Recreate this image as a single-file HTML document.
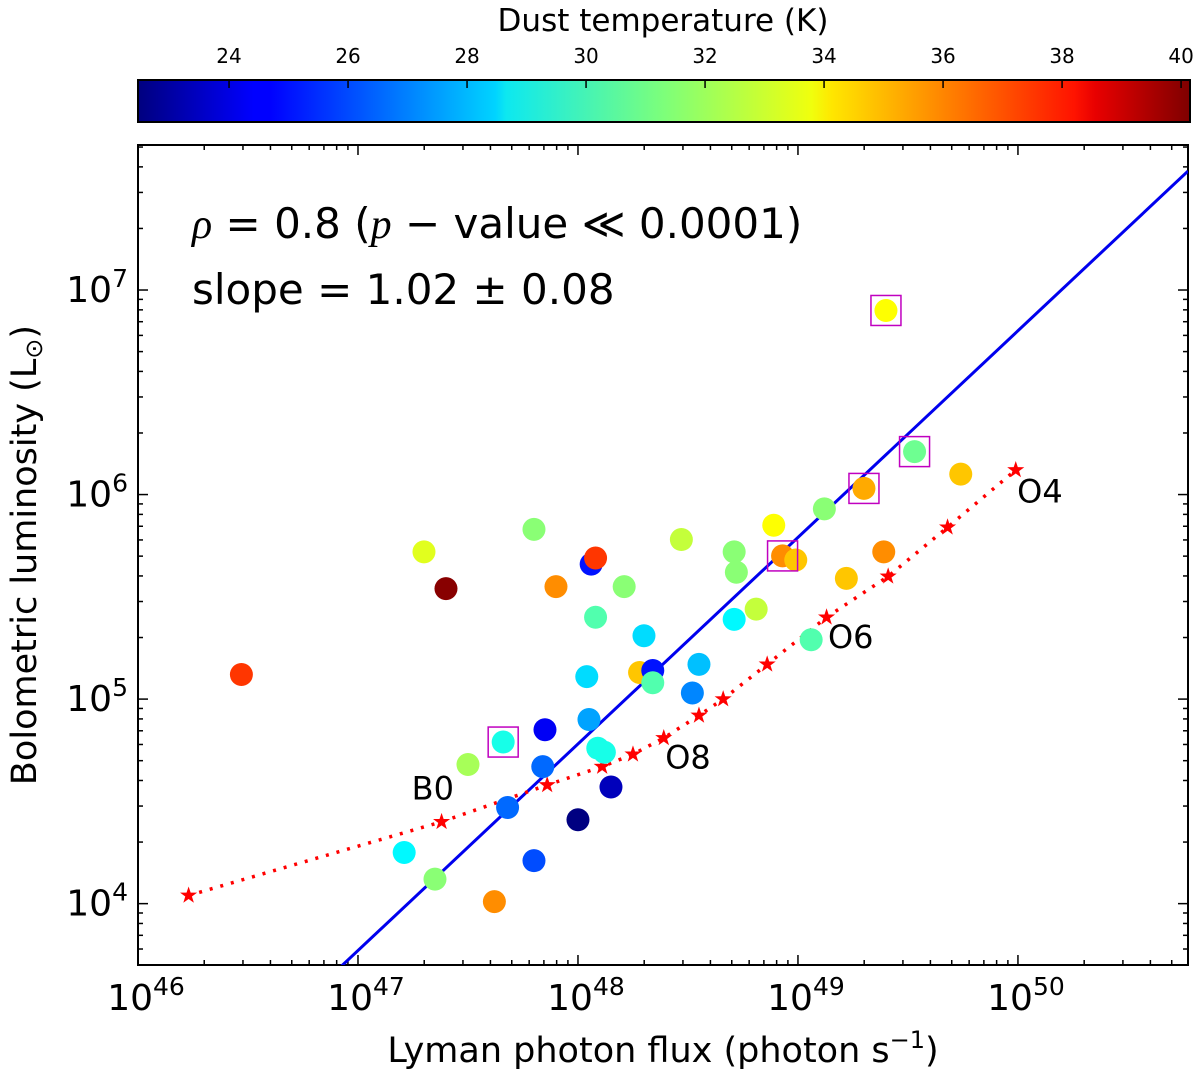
<!DOCTYPE html>
<html><head><meta charset="utf-8"><style>
html,body{margin:0;background:#fff;overflow:hidden;width:1200px;height:1073px;}
svg{display:block;}
svg text{font-family:"DejaVu Sans","Liberation Sans",sans-serif;}
</style></head><body>
<svg id="chart" width="1200" height="1073" xmlns="http://www.w3.org/2000/svg">
<defs>
<linearGradient id="jet" x1="0" x2="1" y1="0" y2="0">
<stop offset="0" stop-color="#00007f"/><stop offset="0.11" stop-color="#0000ff"/>
<stop offset="0.125" stop-color="#0000ff"/><stop offset="0.34" stop-color="#00d4ff"/>
<stop offset="0.35" stop-color="#0de8f0"/><stop offset="0.5" stop-color="#7dff7a"/>
<stop offset="0.64" stop-color="#f0ff0d"/><stop offset="0.66" stop-color="#ffe600"/>
<stop offset="0.89" stop-color="#ff1300"/><stop offset="0.91" stop-color="#e80000"/>
<stop offset="1" stop-color="#7f0000"/>
</linearGradient>
<clipPath id="plotclip"><rect x="138" y="145" width="1050" height="820"/></clipPath>
</defs>
<g id="g"></g>
</svg>
<script>
const logX = [46.47,47.30,47.40,47.80,48.06,48.08,47.90,48.21,48.08,48.30,48.47,48.89,48.71,48.72,48.81,48.71,49.12,48.93,48.99,49.30,49.53,49.74,49.40,49.39,49.22,49.06,48.04,48.28,48.34,48.34,48.55,48.52,48.05,47.85,47.84,47.66,47.50,48.09,48.12,48.15,48.00,47.68,47.80,47.21,47.35,47.62];
const logY = [5.12,5.72,5.54,5.83,5.66,5.69,5.55,5.55,5.40,5.31,5.78,5.85,5.72,5.62,5.44,5.39,5.93,5.70,5.68,6.03,6.21,6.10,6.90,5.72,5.59,5.29,5.11,5.13,5.14,5.08,5.17,5.03,4.90,4.85,4.67,4.79,4.68,4.76,4.74,4.57,4.41,4.47,4.21,4.25,4.12,4.01];
const temps = [37,33,40,31.5,25,37,35.5,31.5,30.5,28.5,32.5,33.5,31.5,31.5,32.5,29,31.5,35.5,34.5,35,31,34.5,33.5,35.5,34.5,30.5,28.5,34.5,25,30.5,28,27,27.5,24.5,26.5,29.5,32,29.5,29.5,23.5,22.5,26.5,26,29,31.5,35.5];
const boxed = [17,19,20,22,35];
const starX = [46.23,47.38,47.86,48.11,48.25,48.39,48.55,48.66,48.86,49.13,49.41,49.68,49.99];
const starY = [4.04,4.40,4.58,4.67,4.73,4.81,4.92,5.00,5.17,5.40,5.60,5.84,6.12];
const fitSlope = 1.01, fitX0 = 46.93, fitY0 = 3.70;
const spLabels = ["B0","O8","O6","O4"];
const spLX = [47.34,48.50,49.24,50.10];
const spLY = [4.51,4.66,5.25,5.96];
const cbTicks = [24,26,28,30,32,34,36,38,40];
const xTicks = [46,47,48,49,50];
const yTicks = [4,5,6,7];

const X0=138,X1=1188,Y0=145,Y1=965;
const xmin=46, xmax=50.773, ymin=3.7, ymax=7.709;
const sx=v=>X0+(v-xmin)/(xmax-xmin)*(X1-X0);
const sy=v=>Y1-(v-ymin)/(ymax-ymin)*(Y1-Y0);
const tmin=22.47,tmax=40.15;
const sc=t=>138+(t-tmin)/(tmax-tmin)*1052;
function jet(t){let v=(t-tmin)/(tmax-tmin);v=Math.max(0,Math.min(1,v));
 const f=x=>Math.max(0,Math.min(1,x));
 const r=f(Math.min(4*v-1.5,-4*v+4.5)),g=f(Math.min(4*v-0.5,-4*v+3.5)),b=f(Math.min(4*v+0.5,-4*v+2.5));
 return `rgb(${Math.round(r*255)},${Math.round(g*255)},${Math.round(b*255)})`;}
const NS="http://www.w3.org/2000/svg", G=document.getElementById('g');
function el(tag,attrs,parent){const e=document.createElementNS(NS,tag);for(const k in attrs)e.setAttribute(k,attrs[k]);(parent||G).appendChild(e);return e;}

let cb=el('rect',{x:138,y:80,width:1052,height:42,fill:'url(#jet)',stroke:'#000','stroke-width':2});


let ct=el('text',{x:663,y:31,'font-size':31,'text-anchor':'middle'});ct.textContent='Dust temperature (K)';


cbTicks.forEach(t=>{const x=sc(t);
 el('line',{x1:x,x2:x,y1:80,y2:88,stroke:'#000','stroke-width':1.5});
 const tx=el('text',{x:x,y:63,'font-size':20,'text-anchor':'middle'});tx.textContent=t;
 
 });

let fr=el('rect',{x:X0,y:Y0,width:X1-X0,height:Y1-Y0,fill:'none',stroke:'#000','stroke-width':2});


for(let d=46;d<=50;d++){for(let m=1;m<10;m++){const v=d+Math.log10(m);if(v>xmax)break;const x=sx(v);const L=m===1?10:5;
 el('line',{x1:x,x2:x,y1:Y1,y2:Y1-L,stroke:'#000','stroke-width':1.5});el('line',{x1:x,x2:x,y1:Y0,y2:Y0+L,stroke:'#000','stroke-width':1.5});}}
xTicks.forEach(d=>{const t=el('text',{x:sx(d)+8,y:1010,'font-size':36,'text-anchor':'middle'});
 t.innerHTML='10<tspan dy="-15" font-size="25">'+d+'</tspan>';
 
 });
for(let d=3;d<=7;d++){for(let m=1;m<10;m++){const v=d+Math.log10(m);if(v<ymin||v>ymax)continue;const y=sy(v);const L=m===1?10:5;
 el('line',{x1:X0,x2:X0+L,y1:y,y2:y,stroke:'#000','stroke-width':1.5});el('line',{x1:X1,x2:X1-L,y1:y,y2:y,stroke:'#000','stroke-width':1.5});}}
yTicks.forEach(d=>{const t=el('text',{x:128,y:sy(d)+12,'font-size':36,'text-anchor':'end'});
 t.innerHTML='10<tspan dy="-15" font-size="25">'+d+'</tspan>';
 
 });
let xl=el('text',{x:663,y:1062,'font-size':35,'text-anchor':'middle'});
xl.innerHTML='Lyman photon flux (photon s<tspan dy="-14" font-size="24">−1</tspan><tspan dy="14">)</tspan>';


let yl=el('text',{x:0,y:0,'font-size':35,'text-anchor':'middle',transform:'translate(36,555) rotate(-90)'});
yl.innerHTML='Bolometric luminosity (L<tspan font-size="24" dy="6">⊙</tspan><tspan dy="-6">)</tspan>';



const P=el('g',{'clip-path':'url(#plotclip)'});
let fl=el('line',{x1:sx(xmin),y1:sy(fitY0+fitSlope*(xmin-fitX0)),x2:sx(xmax),y2:sy(fitY0+fitSlope*(xmax-fitX0)),stroke:'#0000ee','stroke-width':3},P);


let pts=starX.map((v,i)=>sx(v)+','+sy(starY[i])).join(' ');
let pl=el('polyline',{points:pts,fill:'none',stroke:'#ff0000','stroke-width':3.5,'stroke-dasharray':'3,8'},P);


starX.forEach((v,i)=>{const cx=sx(v),cy=sy(starY[i]);let s='';for(let k=0;k<10;k++){const r=k%2?3.5:9,a=-Math.PI/2+k*Math.PI/5;s+=(cx+r*Math.cos(a))+','+(cy+r*Math.sin(a))+' ';}
 const st=el('polygon',{points:s,fill:'#ff0000'},P);
 
 });
logX.forEach((v,i)=>{const c=el('circle',{cx:sx(v),cy:sy(logY[i]),r:11.5,fill:jet(temps[i])},P);
 
 });
boxed.forEach(i=>{const b=el('rect',{x:sx(logX[i])-15,y:sy(logY[i])-15,width:30,height:30,fill:'none',stroke:'#c000c0','stroke-width':1.5},P);
 
 });
spLabels.forEach((s,i)=>{const t=el('text',{x:sx(spLX[i]),y:sy(spLY[i]),'font-size':32,'text-anchor':'middle'});t.textContent=s;
 
 });
let a1=el('text',{x:192,y:238,'font-size':42});a1.innerHTML='<tspan font-style="italic" font-family="Liberation Serif">ρ</tspan> = 0.8 (<tspan font-style="italic" font-family="Liberation Serif">p</tspan> − value ≪ 0.0001)';


let a2=el('text',{x:192,y:304,'font-size':42});a2.textContent='slope = 1.02 ± 0.08';


</script>
</body></html>
